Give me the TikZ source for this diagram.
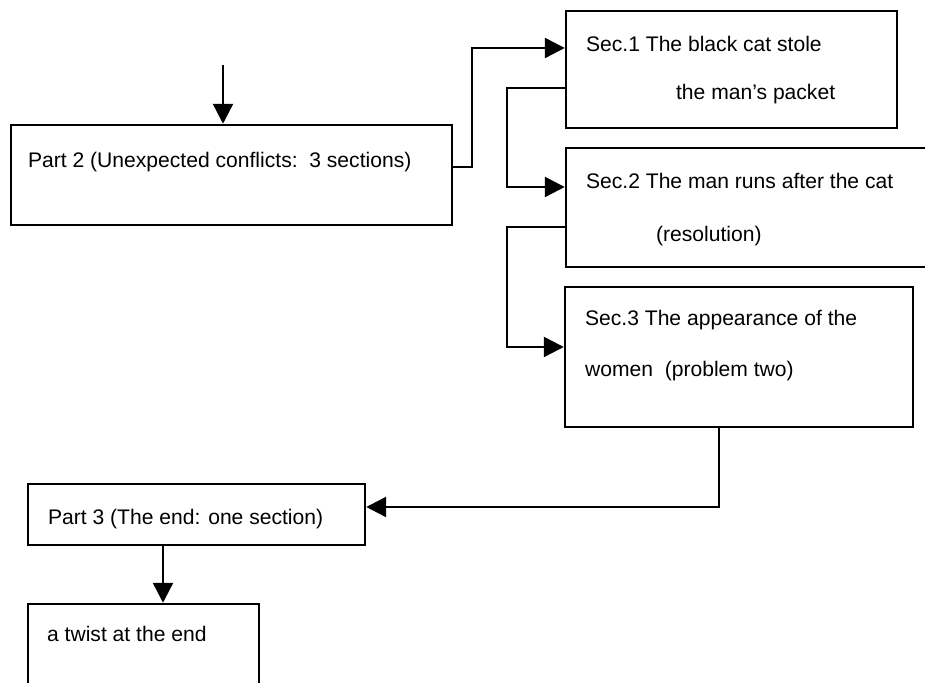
\documentclass[tikz,border=0pt]{standalone}
\usepackage{fontspec}
\setmainfont{Liberation Sans}
\usepackage{tikz}
\usetikzlibrary{arrows.meta, positioning, calc}

\begin{document}
\begin{tikzpicture}[
    box/.style={rectangle, draw, line width=1.4pt, inner sep=0pt},
    txt/.style={anchor=west, inner sep=0pt, font=\fontsize{12}{14}\selectfont, text height=1.6ex, text depth=.4ex},
    arrow/.style={-{Triangle[length=0.4cm,width=0.4cm]}, line width=1.4pt}
]
\useasboundingbox (0,0) rectangle (18.5,13.66);
\clip (0,0) rectangle (18.5,13.66);

% Part 2 and its three sections
\node[box, minimum width=8.82cm, minimum height=2cm] (p2) at (4.63,10.16) {};
\node[txt] (p2t) at ($(p2.north west)+(0.36,-0.76)$) {Part 2 (Unexpected conflicts:\ \ 3 sections)};

\node[box, minimum width=6.62cm, minimum height=2.34cm] (s1) at (14.63,12.27) {};
\node[txt] (s1a) at ($(s1.north west)+(0.42,-0.72)$) {Sec.1 The black cat stole};
\node[txt] (s1b) at ($(s1.north west)+(2.22,-1.68)$) {the man's packet};

\node[box, minimum width=7.88cm, minimum height=2.38cm] (s2) at (15.26,9.51) {};
\node[txt] (s2a) at ($(s2.north west)+(0.42,-0.72)$) {Sec.2 The man runs after the cat};
\node[txt] (s2b) at ($(s2.north west)+(1.82,-1.78)$) {(resolution)};

\node[box, minimum width=6.96cm, minimum height=2.8cm] (s3) at (14.78,6.52) {};
\node[txt] (s3a) at ($(s3.north west)+(0.42,-0.68)$) {Sec.3 The appearance of the};
\node[txt] (s3b) at ($(s3.north west)+(0.42,-1.70)$) {women\ \ (problem two)};

% Part 3 and the end
\node[box, minimum width=6.74cm, minimum height=1.22cm] (p3) at (3.93,3.37) {};
\node[txt] (p3t) at ($(p3.north west)+(0.42,-0.72)$) {Part 3 (The end: one section)};

\node[box, minimum width=4.62cm, minimum height=2.32cm] (tw) at (2.87,0.42) {};
\node[txt] (twt) at ($(tw.north west)+(0.40,-0.66)$) {a twist at the end};

% Arrows
\coordinate (in) at (4.46,12.36);
\draw[arrow] (in) -- (in |- p2.north);
\draw[arrow] ([yshift=0.16cm]p2.east) -- ++(0.38,0) |- ([yshift=0.43cm]s1.west);
\draw[arrow] ([yshift=-0.37cm]s1.west) -- ++(-1.16,0) |- ([yshift=0.41cm]s2.west);
\draw[arrow] ([yshift=-0.39cm]s2.west) -- ++(-1.16,0) |- ([yshift=0.2cm]s3.west);
\draw[arrow] ([xshift=-0.4cm]s3.south) |- ([yshift=0.15cm]p3.east);
\coordinate (p3out) at ([xshift=-0.67cm]p3.south);
\draw[arrow] (p3out) -- (p3out |- tw.north);
\end{tikzpicture}
\end{document}
